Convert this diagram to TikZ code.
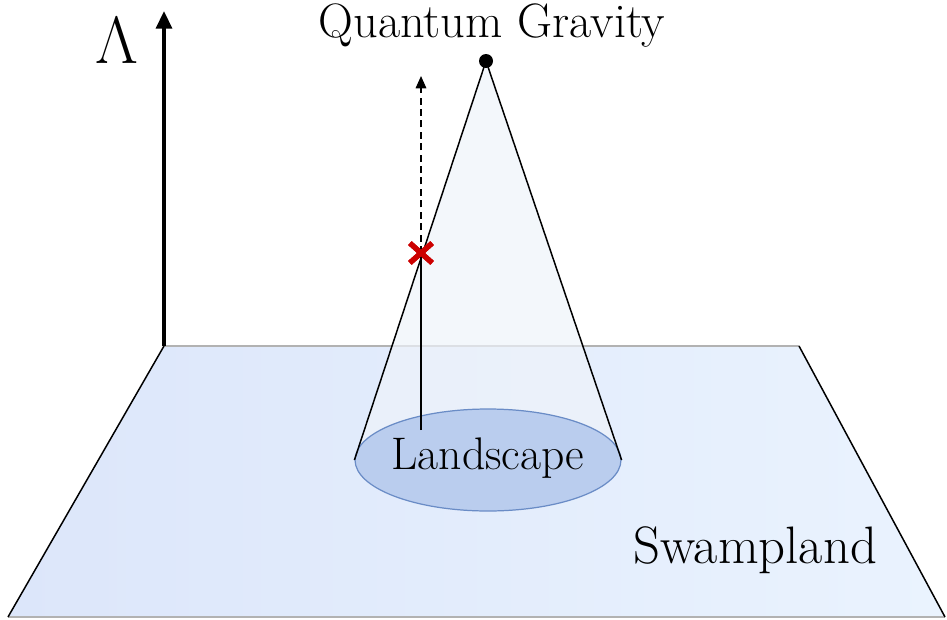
\documentclass[tikz,border=0pt]{standalone}
\usepackage{fix-cm}
\usepackage{fontspec}
\usetikzlibrary{arrows.meta,positioning,shapes.geometric,shapes.misc,backgrounds}
\definecolor{planeleft}{HTML}{DCE6FA}
\definecolor{planeright}{HTML}{EAF3FE}
\definecolor{landfill}{HTML}{BACDEE}
\definecolor{landline}{HTML}{6A8CC6}
\definecolor{conefill}{HTML}{EEF3FA}
\definecolor{crossred}{HTML}{CC0000}
\tikzset{
  bigtext/.style={font=\fontsize{27.5}{32}\selectfont, inner sep=0pt, anchor=base},
  edgeline/.style={line width=0.85pt},
  redcross/.style={cross out, draw=crossred, line width=3pt, minimum width=0.34cm, minimum height=0.29cm, inner sep=0pt},
}
\begin{document}
\begin{tikzpicture}[x=0.02cm,y=-0.02cm,>={Triangle[length=7pt,width=6pt]}]
    \useasboundingbox (0,0) rectangle (947,619);
    % plane corners
    \coordinate (bl) at (8,617);
    \coordinate (br) at (945,617);
    \coordinate (tl) at (164,346);
    \coordinate (tr) at (799,346);
    \coordinate (apex) at (486,61);

    \node (land) [ellipse, draw=landline, line width=0.7pt, fill=landfill, minimum width=5.32cm, minimum height=2.04cm, inner sep=0pt] at (488,460) {};

    \begin{scope}[on background layer]
        \shade[left color=planeleft, right color=planeright] (bl) -- (tl) -- (tr) -- (br) -- cycle;
        \draw[edgeline, gray!60] (bl) -- (br);
        \draw[edgeline, gray!60] (tl) -- (tr);
        \draw[edgeline] (bl) -- (tl);
        \draw[edgeline] (tr) -- (br);
        \fill[conefill, fill opacity=0.7] (apex) -- (land.west) -- (land.east) -- cycle;
    \end{scope}

    % cone
    \draw[edgeline] (land.west) -- (apex) -- (land.east);
    \node (qg) [circle, fill=black, minimum size=0.28cm, inner sep=0pt] at (apex) {};
    \node (qgtext) [bigtext] at (492,37) {Quantum Gravity};
    \node (landtext) [bigtext, font=\fontsize{26}{30}\selectfont] at (488,469) {Landscape};

    % Lambda axis
    \coordinate (lbase) at (164,346);
    \coordinate (ltop) at (164,11);
    \draw[->, line width=2pt, >={Triangle[length=10pt,width=9pt]}] (lbase) -- (ltop);
    \node (lam) [inner sep=0pt, anchor=base] at (117,63) {\fontsize{38}{42}\selectfont$\Lambda$};

    % flow out of the landscape
    \coordinate (vbase) at (421,430);
    \coordinate (vtop) at (421,76);
    \node (cut) [redcross] at (421,253) {};
    \draw[line width=1.4pt] (vbase) -- (cut.center);
    \draw[->, dashed, line width=0.9pt, dash pattern=on 4pt off 2.5pt] (cut.center) -- (vtop);
    \node [redcross] at (cut) {};

    \node (swamp) [bigtext, font=\fontsize{30}{34}\selectfont] at (755,563) {Swampland};
\end{tikzpicture}
\end{document}
